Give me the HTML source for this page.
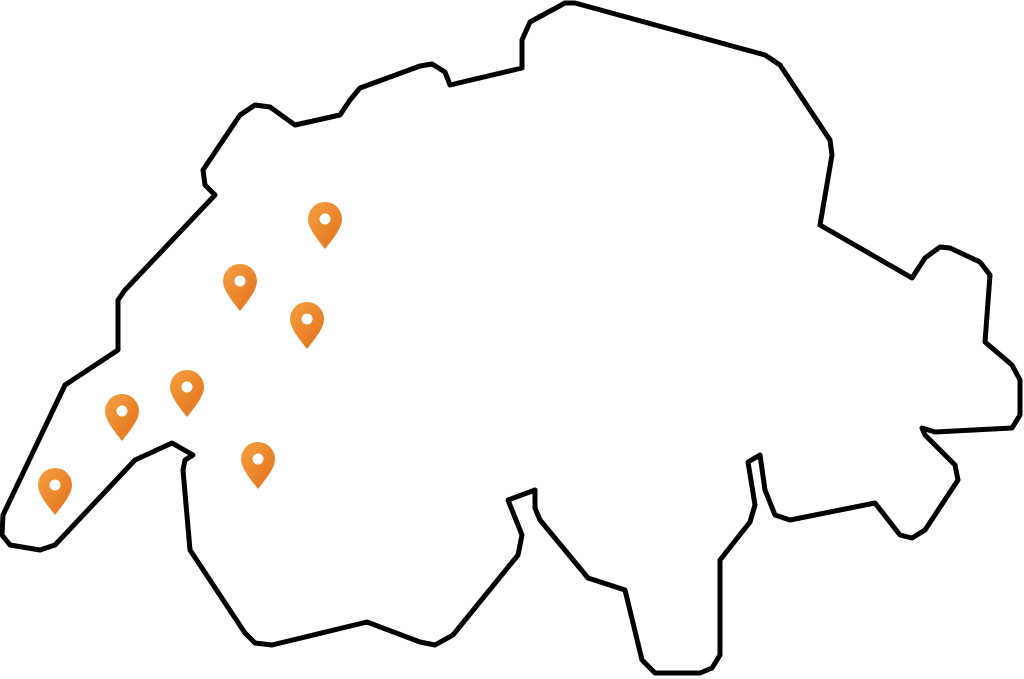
<!DOCTYPE html>
<html><head><meta charset="utf-8"><style>html,body{margin:0;padding:0;background:#fff}svg{display:block}</style></head>
<body>
<svg width="1024" height="679" viewBox="0 0 1024 679" xmlns="http://www.w3.org/2000/svg">
<defs>
<linearGradient id="g" x1="0" y1="0" x2="1" y2="1">
<stop offset="0" stop-color="#f5a040"/><stop offset="1" stop-color="#e2701c"/>
</linearGradient>
<g id="pin">
<path d="M0,28 C-6,20 -17,8 -17,-2 A17,17 0 0 1 17,-2 C17,8 6,20 0,28 Z" fill="url(#g)"/>
<circle cx="0" cy="-2" r="5.5" fill="#fff"/>
</g>
</defs>
<path fill="none" stroke="#000" stroke-width="5" stroke-linejoin="round" d="M215,195 L205,185 L203,170 L240,115 L255,105 L270,107 L295,125 L340,115 L350,100 L360,88 L420,66 L432,64 L445,72 L450,85 L522,68 L522,40 L530,22 L565,3 L575,3 L765,55 L780,65 L830,140 L832,155 L820,225 L912,278 L925,258 L940,247 L950,248 L980,262 L990,275 L985,342 L1012,365 L1020,380 L1020,415 L1012,428 L935,432 L922,428 L925,435 L955,465 L958,480 L925,530 L912,538 L900,535 L875,503 L790,520 L775,515 L765,490 L760,455 L748,462 L755,505 L750,522 L720,560 L720,655 L712,668 L700,673 L655,673 L642,660 L625,590 L588,578 L540,520 L535,508 L535,490 L508,500 L522,535 L518,555 L453,635 L435,645 L420,642 L367,622 L272,645 L255,643 L245,633 L190,550 L183,470 L185,460 L193,455 L172,443 L135,460 L55,545 L40,550 L10,545 L2,535 L3,515 L65,385 L118,350 L118,300 L125,290 Z"/>
<use href="#pin" x="325" y="221"/>
<use href="#pin" x="240" y="283"/>
<use href="#pin" x="307" y="321"/>
<use href="#pin" x="187" y="389"/>
<use href="#pin" x="122" y="413"/>
<use href="#pin" x="258" y="461"/>
<use href="#pin" x="55" y="487"/>
</svg>
</body></html>
